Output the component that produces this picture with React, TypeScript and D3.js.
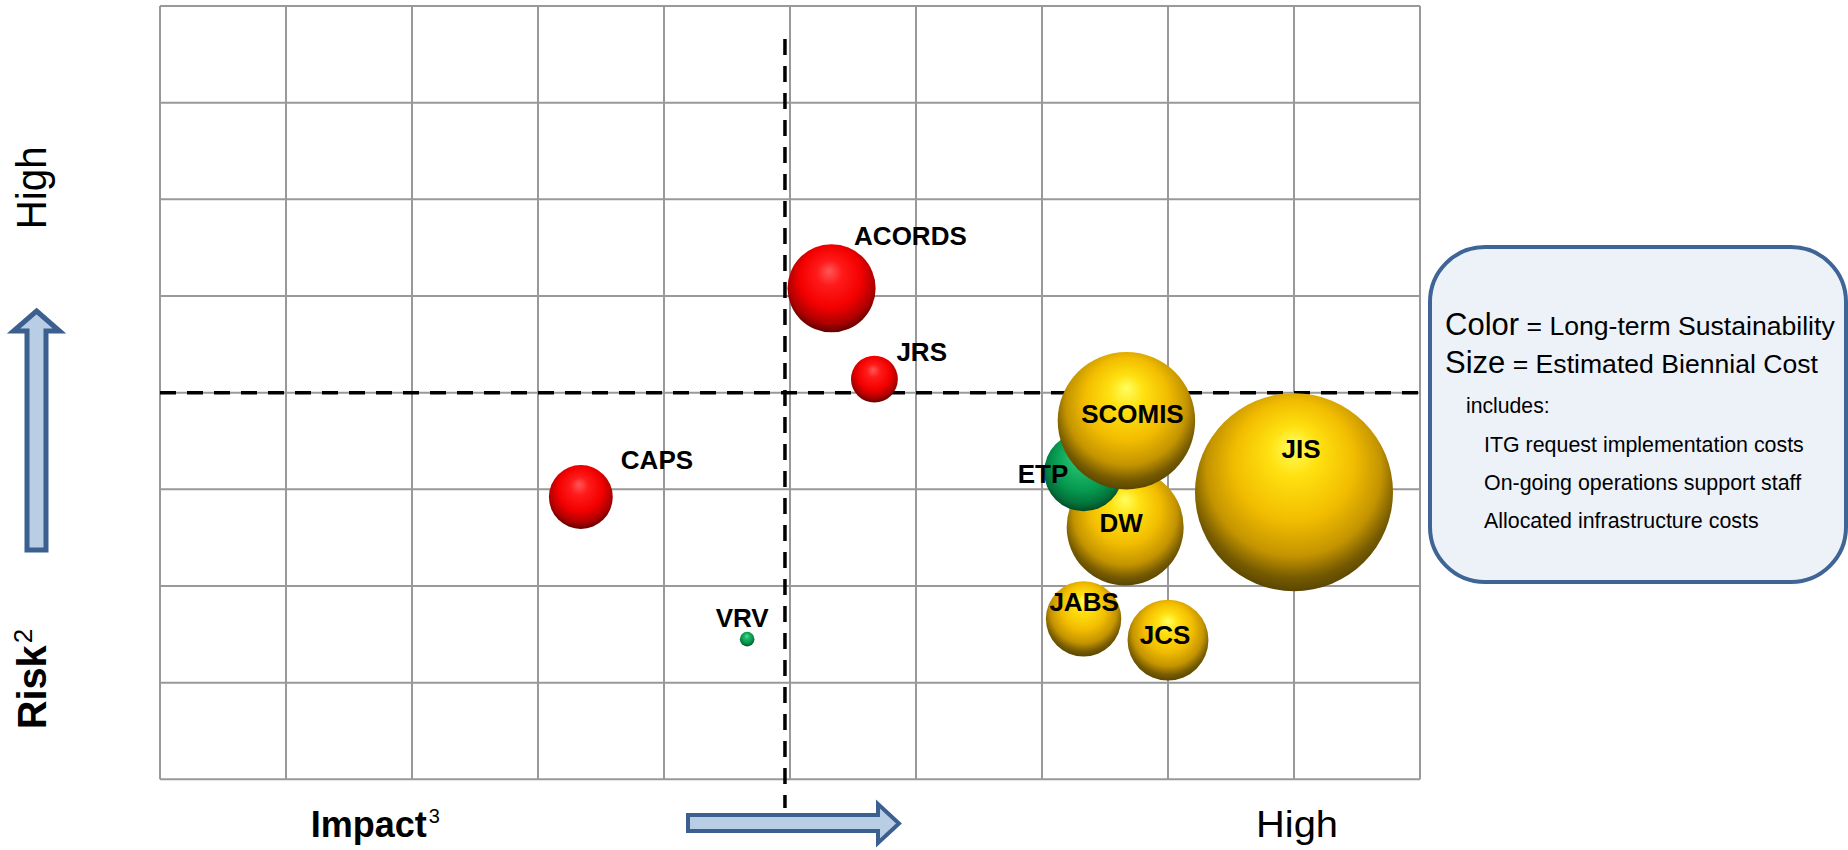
import React from "react";
import * as d3 from "d3";

// ---- data ----
const projects = ["ACORDS", "JRS", "CAPS", "VRV", "DW", "ETP", "SCOMIS", "JIS", "JABS", "JCS"];
const impact = [5.33, 5.67, 3.34, 4.66, 7.66, 7.33, 7.67, 9.0, 7.33, 8.0];
const risk = [5.08, 4.14, 2.92, 1.45, 2.61, 3.18, 3.71, 2.97, 1.66, 1.44];
const biennialCost = [19.8, 5.6, 10.4, 0.54, 34.9, 15.8, 48.2, 100, 14.5, 16.7];
const sustainability = ["Low", "Low", "Low", "High", "Medium", "High", "Medium", "Medium", "Medium", "Medium"];
const sustainabilityLevels = ["Low", "Medium", "High"];
const impactThreshold = 4.96;
const riskThreshold = 4;
const legendLines = [
  "ITG request implementation costs",
  "On-going operations support staff",
  "Allocated infrastructure costs",
];

// ---- layout (label placement per project, px offsets from bubble centre) ----
const labelLayout: Record<string, { dx: number; dy: number; anchor: string }> = {
  ACORDS: { dx: 22.5, dy: -43, anchor: "start" },
  JRS: { dx: 22, dy: -18, anchor: "start" },
  CAPS: { dx: 40, dy: -28, anchor: "start" },
  VRV: { dx: -5, dy: -12, anchor: "middle" },
  DW: { dx: -4, dy: 5, anchor: "middle" },
  ETP: { dx: -40.5, dy: 10.7, anchor: "middle" },
  SCOMIS: { dx: 6, dy: 2, anchor: "middle" },
  JIS: { dx: 7, dy: -34, anchor: "middle" },
  JABS: { dx: 0.5, dy: -8, anchor: "middle" },
  JCS: { dx: -3, dy: 3.6, anchor: "middle" },
};

const FONT = "'Liberation Sans', Arial, Helvetica, sans-serif";
const W = 1848;
const H = 850;
const plot = { left: 160, right: 1420, top: 6, bottom: 779.3 };

export default function App() {
  const x = d3.scaleLinear().domain([0, 10]).range([plot.left, plot.right]);
  const y = d3.scaleLinear().domain([0, 8]).range([plot.bottom, plot.top]);
  const r = d3.scaleSqrt().domain([0, 100]).range([0, 99]);
  const color = d3
    .scaleOrdinal<string, string>()
    .domain(sustainabilityLevels)
    .range(["url(#gRed)", "url(#gYellow)", "url(#gGreen)"]);

  const xTicks = d3.range(0, 11);
  const yTicks = d3.range(0, 9);
  const gridColor = "#999999";

  const xa = { left: 688, tipX: 899, baseX: 878, sTop: 815, sBot: 831, hTop: 804, hBot: 843 };
  const xArrowPath = `M${xa.left},${xa.sTop} L${xa.baseX},${xa.sTop} L${xa.baseX},${xa.hTop} L${xa.tipX},${(xa.hTop + xa.hBot) / 2} L${xa.baseX},${xa.hBot} L${xa.baseX},${xa.sBot} L${xa.left},${xa.sBot} Z`;
  const ya = { cx: 36.5, tipY: 311, baseY: 331, hHalf: 23, sHalf: 9.5, bottom: 550 };
  const yArrowPath = `M${ya.cx},${ya.tipY} L${ya.cx + ya.hHalf},${ya.baseY} L${ya.cx + ya.sHalf},${ya.baseY} L${ya.cx + ya.sHalf},${ya.bottom} L${ya.cx - ya.sHalf},${ya.bottom} L${ya.cx - ya.sHalf},${ya.baseY} L${ya.cx - ya.hHalf},${ya.baseY} Z`;

  const idx = projects.map((_, i) => i);

  return (
    <svg
      width={W}
      height={H}
      style={{ position: "absolute", left: 0, top: 0, background: "#ffffff" }}
      fontFamily={FONT}
    >
      <defs>
        <radialGradient id="gYellow" cx="50%" cy="42%" r="58%" fx="50%" fy="26%">
          <stop offset="0%" stopColor="#ffff60" />
          <stop offset="22%" stopColor="#ffe010" />
          <stop offset="52%" stopColor="#f2bd00" />
          <stop offset="76%" stopColor="#c49400" />
          <stop offset="91%" stopColor="#755a00" />
          <stop offset="100%" stopColor="#5a4600" />
        </radialGradient>
        <radialGradient id="gRed" cx="50%" cy="42%" r="58%" fx="47%" fy="30%">
          <stop offset="0%" stopColor="#ff5858" />
          <stop offset="25%" stopColor="#ff1a1a" />
          <stop offset="60%" stopColor="#f40000" />
          <stop offset="85%" stopColor="#b00000" />
          <stop offset="100%" stopColor="#640000" />
        </radialGradient>
        <radialGradient id="gGreen" cx="50%" cy="42%" r="58%" fx="47%" fy="28%">
          <stop offset="0%" stopColor="#5de39a" />
          <stop offset="28%" stopColor="#1fb868" />
          <stop offset="65%" stopColor="#05984f" />
          <stop offset="88%" stopColor="#03703a" />
          <stop offset="100%" stopColor="#014a24" />
        </radialGradient>
      </defs>

      {/* grid */}
      <g stroke={gridColor} strokeWidth={2}>
        {xTicks.map((t) => (
          <line key={"gx" + t} x1={x(t)} x2={x(t)} y1={plot.top} y2={plot.bottom} />
        ))}
        {yTicks.map((t) => (
          <line key={"gy" + t} x1={plot.left} x2={plot.right} y1={y(t)} y2={y(t)} />
        ))}
      </g>

      {/* quadrant dashed lines */}
      <g stroke="#000" strokeWidth={3.5} strokeDasharray="16 11" fill="none">
        <line x1={plot.left} x2={plot.right + 5} y1={y(riskThreshold)} y2={y(riskThreshold)} />
        <line x1={x(impactThreshold)} x2={x(impactThreshold)} y1={39} y2={808} />
      </g>

      {/* bubbles */}
      {idx.map((i) => (
        <circle
          key={"b" + projects[i]}
          cx={x(impact[i])}
          cy={y(risk[i])}
          r={r(biennialCost[i])}
          fill={color(sustainability[i])}
        />
      ))}

      {/* labels */}
      {idx.map((i) => {
        const L = labelLayout[projects[i]];
        return (
          <text
            key={"l" + projects[i]}
            x={x(impact[i]) + L.dx}
            y={y(risk[i]) + L.dy}
            textAnchor={L.anchor}
            fontWeight="bold"
            fontSize={26}
            fill="#000"
          >
            {projects[i]}
          </text>
        );
      })}

      {/* axis arrows */}
      <path d={yArrowPath} fill="#b9cde5" stroke="#3b6090" strokeWidth={5} strokeLinejoin="miter" />
      <path d={xArrowPath} fill="#b9cde5" stroke="#3b6090" strokeWidth={4} strokeLinejoin="miter" />

      {/* axis titles */}
      <text transform="translate(45.7,229.3) rotate(-90)" fontSize={42} textLength={83} lengthAdjust="spacingAndGlyphs" fill="#000">
        High
      </text>
      <text transform="translate(45.7,729.3) rotate(-90)" fill="#000">
        <tspan fontSize={41} fontWeight="bold" textLength={84} lengthAdjust="spacingAndGlyphs">Risk</tspan>
        <tspan fontSize={26} dy={-14} dx={2}>2</tspan>
      </text>
      <text x={310.7} y={836.7} fill="#000">
        <tspan fontSize={36} fontWeight="bold">Impact</tspan>
        <tspan fontSize={20} dy={-14} dx={2}>3</tspan>
      </text>
      <text x={1256} y={836.7} fontSize={36} textLength={82} lengthAdjust="spacingAndGlyphs" fill="#000">
        High
      </text>

      {/* legend box */}
      <rect x={1430} y={247} width={416} height={335} rx={55} ry={55} fill="#edf2f9" stroke="#3e6596" strokeWidth={4} />
      <text x={1445} y={335} fill="#000">
        <tspan fontSize={31}>Color</tspan>
        <tspan fontSize={26.6}> = Long-term Sustainability</tspan>
      </text>
      <text x={1445} y={373.3} fill="#000">
        <tspan fontSize={31}>Size</tspan>
        <tspan fontSize={26.6}> = Estimated Biennial Cost</tspan>
      </text>
      <text x={1466} y={412.7} fontSize={21.2} fill="#000">
        includes:
      </text>
      {legendLines.map((s, i) => (
        <text key={s} x={1484} y={451.7 + i * 38.3} fontSize={21.4} fill="#000">
          {s}
        </text>
      ))}
    </svg>
  );
}
